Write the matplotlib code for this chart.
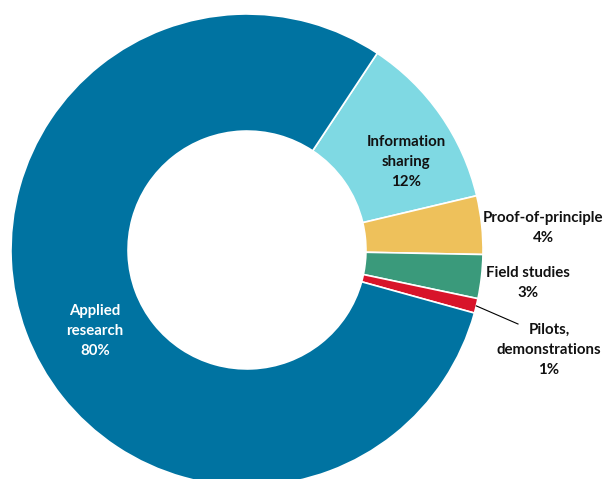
import numpy as np
import matplotlib
matplotlib.use("Agg")
import matplotlib.pyplot as plt

# Share of projects by type
categories = ["Information\nsharing", "Proof-of-principle", "Field studies",
              "Pilots,\ndemonstrations", "Applied\nresearch"]
shares = [12, 4, 3, 1, 80]
colors = ["#7FD9E3", "#EEC15B", "#3A9A7B", "#D8142A", "#0073A1"]

W, H = 603, 479
cx, cy, R = 247, 250, 236   # donut centre and radius in pixels

plt.rcParams['font.family'] = ['Lato', 'DejaVu Sans']

fig = plt.figure(figsize=(W / 100, H / 100), dpi=100)
ax = fig.add_axes([0, 0, 1, 1])

wedges, _ = ax.pie(shares, colors=colors, startangle=56.5, counterclock=False,
                   radius=1.0, wedgeprops=dict(width=0.496, edgecolor="white", linewidth=1.2))

ax.set_xlim(-cx / R, (W - cx) / R)
ax.set_ylim(-(H - cy) / R, cy / R)
ax.set_aspect("equal")
ax.axis("off")


def px(x, y):
    return (x - cx) / R, (cy - y) / R


label_pos = [(406, 162), (543, 228), (528, 283), (549, 350), (95, 331)]
text_colors = ["#111111", "#111111", "#111111", "#111111", "white"]

for name, val, (lx, ly), tc in zip(categories, shares, label_pos, text_colors):
    x, y = px(lx, ly)
    ax.text(x, y, f"{name}\n{val}%", ha="center", va="center", fontsize=10.8,
            fontweight="bold", color=tc, linespacing=1.55)

# leader line for the thin slice
w = wedges[3]
mid = np.deg2rad((w.theta1 + w.theta2) / 2)
x0, y0 = np.cos(mid), np.sin(mid)
x1, y1 = px(518, 324)
ax.plot([x0, x1], [y0, y1], color="black", lw=0.8)

fig.savefig("out.png", dpi=100)
